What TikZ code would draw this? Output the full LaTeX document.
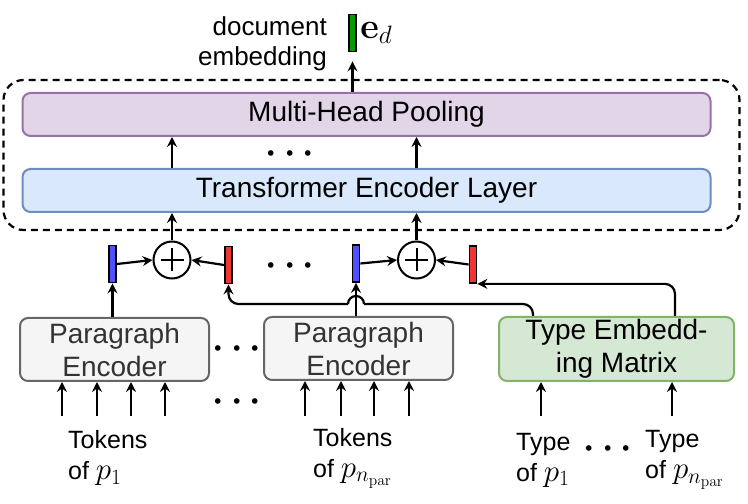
\RequirePackage{fix-cm}
\documentclass[tikz,border=0pt]{standalone}
\usepackage[no-math]{fontspec}
\setmainfont{Liberation Sans}
\usetikzlibrary{arrows.meta}

\definecolor{poolfill}{HTML}{E1D5E7}
\definecolor{pooldraw}{HTML}{9673A6}
\definecolor{telfill}{HTML}{DAE8FC}
\definecolor{teldraw}{HTML}{6C8EBF}
\definecolor{encfill}{HTML}{F5F5F5}
\definecolor{encdraw}{HTML}{666666}
\definecolor{enctext}{HTML}{333333}
\definecolor{typefill}{HTML}{D5E8D4}
\definecolor{typedraw}{HTML}{82B366}
\definecolor{vecblue}{HTML}{5050FF}
\definecolor{vecred}{HTML}{F03535}
\definecolor{vecgreen}{HTML}{089A08}

\newcommand{\parmath}[1]{{\fontsize{31}{31}\selectfont$#1$}}

\begin{document}
\begin{tikzpicture}[x=1pt, y=1pt]
\tikzstyle{box}=[draw, line width=2, rounded corners=8, inner sep=0, align=center]
\tikzstyle{vec}=[draw, line width=1.8, minimum width=7, minimum height=37, inner sep=0]
\tikzstyle{summ}=[circle, draw, line width=2, minimum size=37, inner sep=0,
path picture={\draw[line width=2] (path picture bounding box.west) ++(7,0) -- ++(23,0)
(path picture bounding box.north) ++(0,-7) -- ++(0,-23);}]
\tikzstyle{arr}=[line width=2.2, -{Stealth[length=10, width=10, inset=3.5]}]
\tikzstyle{dots}=[inner sep=0, font=\fontsize{36}{36}\selectfont\boldmath]
\tikzstyle{inlabel}=[anchor=west, align=left, inner sep=0, font=\fontsize{25}{31}\selectfont]
\useasboundingbox (0,0) rectangle (748,504);

\node[draw, dashed, line width=2.2, dash pattern=on 7 off 5, rounded corners=20,
minimum width=736, minimum height=150] (stack) at (371.5,349) {};
\node[box, fill=poolfill, draw=pooldraw, minimum width=688, minimum height=43,
font=\fontsize{28}{33}\selectfont] (pool) at (366.5,389.5) {Multi-Head Pooling};
\node[box, fill=telfill, draw=teldraw, minimum width=688, minimum height=43,
font=\fontsize{28}{33}\selectfont] (tel) at (366.5,313.5) {Transformer Encoder Layer};

\node[vec, fill=vecgreen,
label={[font=\fontsize{36}{36}\selectfont, label distance=0]right:{$\mathbf{e}_d$}}
] (ed) at (352.5,471) {};
\node[anchor=east, align=right, inner sep=0, font=\fontsize{26}{30}\selectfont]
(doc) at (327,460) {document\\embedding};

\node[summ] (plusA) at (172,244) {};
\node[summ] (plusB) at (416.5,244) {};
\node[vec, fill=vecblue] (bA) at (112.5,240) {};
\node[vec, fill=vecred] (rA) at (228.5,239) {};
\node[vec, fill=vecblue] (bB) at (356,240.5) {};
\node[vec, fill=vecred] (rB) at (473,239.5) {};

\node[box, fill=encfill, draw=encdraw, text=enctext, minimum width=189, minimum height=63,
font=\fontsize{28}{33}\selectfont] (pe1) at (114.5,154.5) {Paragraph\\Encoder};
\node[box, fill=encfill, draw=encdraw, text=enctext, minimum width=189, minimum height=63,
font=\fontsize{28}{33}\selectfont] (pe2) at (358.5,155.5) {Paragraph\\Encoder};
\node[box, fill=typefill, draw=typedraw, minimum width=235, minimum height=64,
font=\fontsize{28}{33}\selectfont] (te) at (616.5,155) {Type Embedd-\\ing Matrix};

\node[inlabel] (tok1) at (68,46) {Tokens\\ of \parmath{p_1}};
\node[inlabel] (tok2) at (313,46) {Tokens\\ of \parmath{p_{n_\mathrm{par}}}};
\node[inlabel] (typ1) at (516,44) {Type\\ of \parmath{p_1}};
\node[inlabel] (typ2) at (645,44) {Type\\ of \parmath{p_{n_\mathrm{par}}}};

\node[dots] (dotsL) at (290,350) {$\cdots$};
\node[dots] (dotsV) at (290,238) {$\cdots$};
\node[dots] (dotsP) at (237,155) {$\cdots$};
\node[dots] (dotsI) at (237,102) {$\cdots$};
\node[dots] (dotsT) at (608,55) {$\cdots$};

\draw[arr] (pool.north -| ed) -- ([yshift=-9]ed.south);
\draw[arr] (tel.north -| plusA) -- (pool.south -| plusA);
\draw[arr] (tel.north -| plusB) -- (pool.south -| plusB);
\draw[arr] (plusA) -- (tel.south -| plusA);
\draw[arr] (plusB) -- (tel.south -| plusB);
\draw[arr] (bA.east) -- (plusA.west);
\draw[arr] (rA.west) -- (plusA.east);
\draw[arr] (bB.east) -- (plusB.west);
\draw[arr] (rB.west) -- (plusB.east);
\draw[arr] (pe1.north -| bA) -- (bA.south);
\draw[arr] (pe2.north -| bB) -- (bB.south);

% type rows, with a hop over the second encoder
\coordinate (hopR) at (364,200);
\coordinate (hopL) at (348,200);
\draw[line width=2.2, rounded corners=10] (te.north -| 533,0) |- (hopR);
\draw[line width=2.2] (hopR) arc[start angle=0, end angle=180, radius=8];
\draw[arr, rounded corners=10] (hopL) -| (rA.south);
\draw[arr, rounded corners=10] (te.north -| 675,0) |- (rB.south east);

\foreach \x in {62,97,131,165}
  \draw[arr] (\x,88) -- (\x,0 |- pe1.south);
\foreach \x in {305,341,374,409}
  \draw[arr] (\x,88) -- (\x,0 |- pe2.south);
\foreach \x in {541,672}
  \draw[arr] (\x,88) -- (\x,0 |- te.south);

\end{tikzpicture}
\end{document}
